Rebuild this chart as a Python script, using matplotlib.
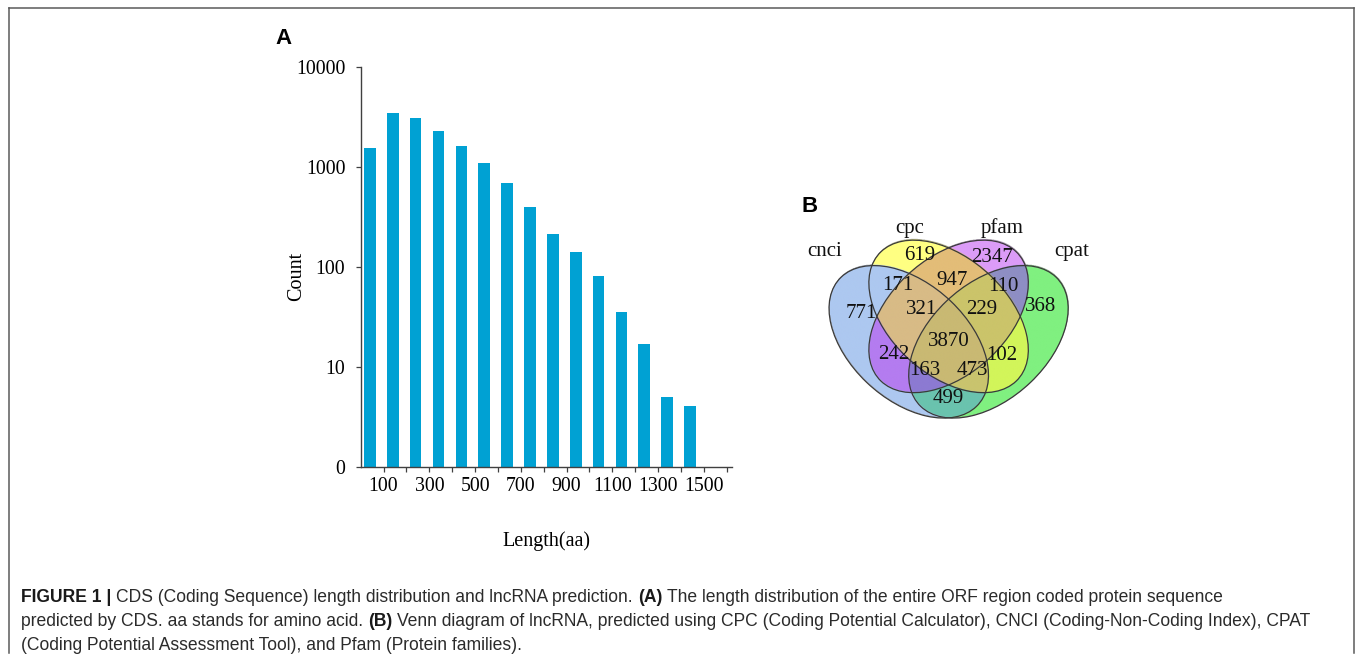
"""CDS length distribution (A) and 4-way Venn of lncRNA predictors (B)."""

import numpy as np
import matplotlib
matplotlib.use("Agg")
import matplotlib.pyplot as plt
from matplotlib.patches import Ellipse
from matplotlib.lines import Line2D
from matplotlib.colors import to_rgba

# ---- Panel A data: ORF protein length histogram ----
bin_start = np.arange(0, 1500, 100)          # 15 bins of 100 aa
bin_width = 100
cds_counts = [1570, 3450, 3090, 2320, 1640, 1110, 700, 396, 212, 141,
              81, 35.5, 17.1, 5.0, 4.1]
x_ticks = np.arange(100, 1700, 100)
x_tick_labels = ["100", "", "300", "", "500", "", "700", "", "900", "",
                 "1100", "", "1300", "", "1500", ""]
y_ticks = [1, 10, 100, 1000, 10000]
y_tick_labels = ["0", "10", "100", "1000", "10000"]

# ---- Panel B data: Venn diagram counts -------------------------------
# region code = membership in (cnci, cpc, pfam, cpat)
venn_sets = ["cnci", "cpc", "pfam", "cpat"]
venn_regions = ["1000", "0100", "0010", "0001", "1100", "0110", "0011",
                "1110", "0111", "1111", "1010", "0101", "1011", "1101", "1001"]
venn_counts = [771, 619, 2347, 368, 171, 947, 110,
               321, 229, 3870, 242, 102, 163, 473, 499]

W, H = 1355, 662
SERIF = "Liberation Serif"
SANS = "Liberation Sans"
INK = "#404040"

fig = plt.figure(figsize=(W / 100, H / 100), dpi=100)
fig.patch.set_facecolor("white")


def px_box(left, top, width, height):
    """Pixel box (from top-left) -> figure fraction rect."""
    return [left / W, 1 - (top + height) / H, width / W, height / H]


# ---- Panel A -----------------------------------------------------------
ax = fig.add_axes(px_box(360.7, 67.3, 371, 399.4))
ax.bar(bin_start + 0.4 * bin_width, cds_counts, width=0.51 * bin_width,
       color="#00a1d3", linewidth=0)
ax.set_yscale("log")
ax.set_ylim(1, 10000)
ax.set_xlim(0, 1622)
ax.set_yticks(y_ticks, y_tick_labels)
ax.yaxis.set_minor_locator(matplotlib.ticker.NullLocator())
ax.set_xticks(x_ticks, x_tick_labels)

for side in ["top", "right"]:
    ax.spines[side].set_visible(False)
for side in ["left", "bottom"]:
    ax.spines[side].set_color(INK)
    ax.spines[side].set_linewidth(1.0)

ax.tick_params(axis="both", direction="out", length=3.6, width=0.9,
               color=INK, labelsize=14.3)
ax.tick_params(axis="y", pad=7.5)
ax.tick_params(axis="x", pad=4)
for lab in ax.get_xticklabels() + ax.get_yticklabels():
    lab.set_family(SERIF)

ax.set_ylabel("Count", family=SERIF, fontsize=14.5)
ax.yaxis.set_label_coords(-0.146, 0.476)
ax.set_xlabel("Length(aa)", family=SERIF, fontsize=14.5)
ax.xaxis.set_label_coords(0.501, -0.162)

# ---- Panel B: 4-ellipse Venn (VennDiagram-style layout) ----------------
vax = fig.add_axes(px_box(815.8, 207.2, 265.6, 254))
vax.set_xlim(0, 1)
vax.set_ylim(0, 1)
vax.axis("off")

ellipses = [((0.35, 0.47), -45), ((0.50, 0.57), -45),
            ((0.50, 0.57), 45), ((0.65, 0.47), 45)]
semi_a, semi_b = 0.36, 0.225

# fill colour of every region, as it appears in the figure
region_colors = {
    "1000": "#adc8f0", "1100": "#adc8f0", "0100": "#ffff82",
    "0010": "#dc9cf8", "0001": "#80f080", "0110": "#e3bd78",
    "0011": "#8e8ec4", "1110": "#d8bb86", "0111": "#cbc46a",
    "1111": "#c9b973", "1010": "#b47cf0", "0101": "#d2f55a",
    "1011": "#8c7ad2", "1101": "#c9c46e", "1001": "#6ac3ae",
}

n = 700
gx, gy = np.meshgrid(np.linspace(0, 1, n), np.linspace(0, 1, n))
inside = []
for (cx, cy), ang in ellipses:
    t = np.deg2rad(ang)
    dx, dy = gx - cx, gy - cy
    u = dx * np.cos(t) + dy * np.sin(t)
    v = -dx * np.sin(t) + dy * np.cos(t)
    inside.append((u / semi_a) ** 2 + (v / semi_b) ** 2 <= 1)

img = np.zeros((n, n, 4))
for code, col in region_colors.items():
    mask = np.ones((n, n), dtype=bool)
    for k, ch in enumerate(code):
        mask &= inside[k] if ch == "1" else ~inside[k]
    img[mask] = to_rgba(col)
vax.imshow(img, origin="lower", extent=(0, 1, 0, 1), aspect="auto",
           interpolation="bilinear", zorder=1)

for (cx, cy), ang in ellipses:
    vax.add_patch(Ellipse((cx, cy), 2 * semi_a, 2 * semi_b, angle=ang,
                          fill=False, edgecolor="#3a3a3a", linewidth=0.9,
                          zorder=2))

# where each count sits inside its region
region_xy = {
    "1000": (0.173, 0.582), "0100": (0.392, 0.809), "0010": (0.665, 0.802),
    "0001": (0.848, 0.611), "1100": (0.308, 0.691), "0110": (0.512, 0.713),
    "0011": (0.706, 0.687), "1110": (0.399, 0.599), "0111": (0.625, 0.599),
    "1111": (0.501, 0.470), "1010": (0.292, 0.422), "0101": (0.700, 0.418),
    "1011": (0.411, 0.359), "1101": (0.588, 0.356), "1001": (0.498, 0.248),
}
for code, count in zip(venn_regions, venn_counts):
    x, y = region_xy[code]
    vax.text(x, y, str(count), ha="center", va="center", family=SERIF,
             fontsize=15, color="#111111", zorder=3)

set_label_xy = [(0.032, 0.825), (0.355, 0.917), (0.700, 0.917), (0.963, 0.825)]
for name, (x, y) in zip(venn_sets, set_label_xy):
    vax.text(x, y, name, ha="center", va="center", family=SERIF,
             fontsize=15, color="#111111", zorder=3)

# ---- Panel letters -------------------------------------------------------
fig.text(275 / W, 1 - 44 / H, "A", family=SANS, fontweight="bold",
         fontsize=16, va="baseline")
fig.text(801.7 / W, 1 - 211.7 / H, "B", family=SANS, fontweight="bold",
         fontsize=16, va="baseline")

# ---- Caption (mixed bold / regular, placed piece by piece) ---------------
caption_lines = [
    [("FIGURE 1 |", True),
     ("CDS (Coding Sequence) length distribution and lncRNA prediction.", False),
     ("(A)", True),
     ("The length distribution of the entire ORF region coded protein sequence", False)],
    [("predicted by CDS. aa stands for amino acid.", False),
     ("(B)", True),
     ("Venn diagram of lncRNA, predicted using CPC (Coding Potential Calculator), "
      "CNCI (Coding-Non-Coding Index), CPAT", False)],
    [("(Coding Potential Assessment Tool), and Pfam (Protein families).", False)],
]
caption_left = 21
caption_baselines = [602.5, 626.5, 650.0]
renderer = fig.canvas.get_renderer()


def text_width(s, size, bold):
    t = fig.text(0, 0, s, fontsize=size, family=SANS,
                 fontweight="bold" if bold else "normal")
    w = t.get_window_extent(renderer).width
    t.remove()
    return w


def line_width(parts, size):
    space = text_width("x x", size, False) - text_width("xx", size, False)
    total = sum(text_width(s, size, b) for s, b in parts)
    return total + space * (len(parts) - 1)


# fit the font size so the longest (second) line ends where it does in the figure
base = 10.0
cap_size = base * (1318 - caption_left) / line_width(caption_lines[1], base)
space_w = text_width("x x", cap_size, False) - text_width("xx", cap_size, False)

for parts, base_y in zip(caption_lines, caption_baselines):
    x = caption_left
    for s, bold in parts:
        t = fig.text(x / W, 1 - base_y / H, s, fontsize=cap_size, family=SANS,
                     fontweight="bold" if bold else "normal", va="baseline",
                     color="#1a1a1a" if bold else "#2b2b2b")
        x += t.get_window_extent(renderer).width + space_w

# ---- Outer frame (open at the bottom) -----------------------------------
frame_kw = dict(transform=fig.transFigure, color="#5a5a5a", linewidth=1.1)
left_x, right_x, top_y, bot_y = 9.3 / W, 1353.5 / W, 1 - 8.3 / H, 1 - 653 / H
fig.add_artist(Line2D([left_x, left_x], [bot_y, top_y], **frame_kw))
fig.add_artist(Line2D([left_x, right_x], [top_y, top_y], **frame_kw))
fig.add_artist(Line2D([right_x, right_x], [top_y, bot_y], **frame_kw))

fig.savefig("out.png", dpi=100, facecolor="white")
